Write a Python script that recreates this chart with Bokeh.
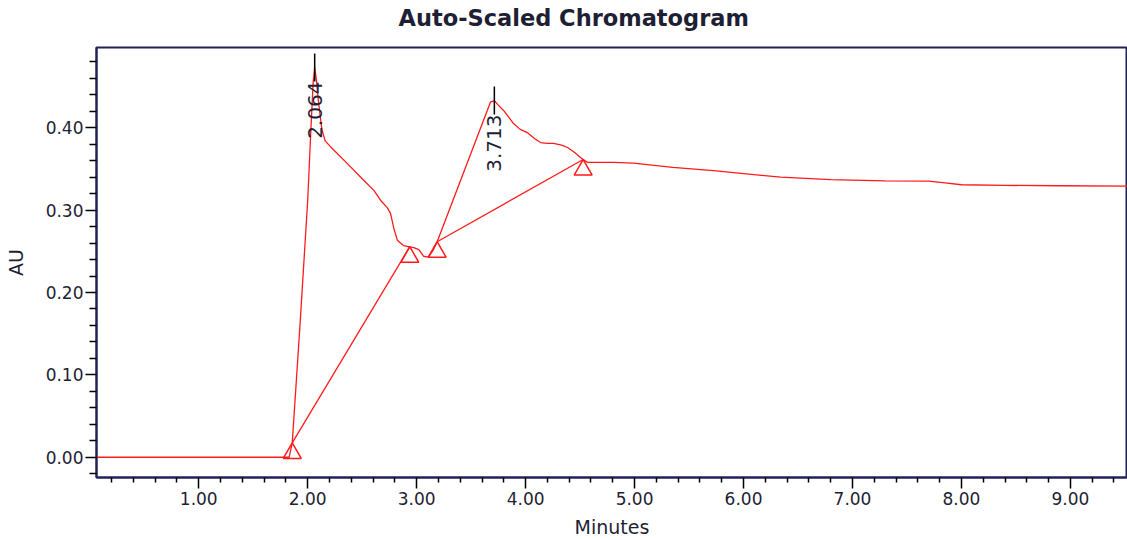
import math

from bokeh.plotting import figure
from bokeh.models import Range1d, FixedTicker, PrintfTickFormatter, Title
from bokeh.core.properties import value
from bokeh.embed import file_html
from bokeh.resources import INLINE

# Detector trace: retention time (min) vs absorbance (AU)
time_min = [0.06, 1.00, 1.83, 1.858, 1.93, 2.00, 2.03, 2.05, 2.064, 2.08, 2.10,
            2.13, 2.16, 2.209, 2.36, 2.50, 2.607, 2.668, 2.73, 2.76, 2.79,
            2.824, 2.879, 2.937, 2.974, 3.02, 3.063, 3.108, 3.15, 3.188, 3.677,
            3.713, 3.745, 3.797, 3.85, 3.889, 3.95, 4.017, 4.09, 4.137, 4.20,
            4.256, 4.33, 4.385, 4.45, 4.504, 4.528, 4.568, 4.807, 4.99, 5.35,
            5.724, 6.34, 6.80, 7.30, 7.70, 7.85, 8.00, 8.40, 8.90, 9.52]
absorbance = [0.0, 0.0, 0.0, 0.0174, 0.162, 0.312, 0.40, 0.455, 0.473, 0.458,
              0.430, 0.398, 0.384, 0.377, 0.357, 0.338, 0.324, 0.312, 0.303,
              0.296, 0.278, 0.263, 0.257, 0.2555, 0.2545, 0.252, 0.244, 0.243,
              0.251, 0.2616, 0.431, 0.433, 0.428, 0.421, 0.412, 0.405, 0.398,
              0.394, 0.386, 0.382, 0.381, 0.381, 0.379, 0.376, 0.370, 0.364,
              0.3614, 0.358, 0.358, 0.357, 0.352, 0.348, 0.340, 0.337, 0.3355,
              0.3352, 0.333, 0.3308, 0.330, 0.3296, 0.3292]

# Integration baseline end points (peak start / peak end)
base_time = [1.858, 2.937, 3.188, 4.528]
base_au = [0.0174, 0.2555, 0.2616, 0.3614]
base_pairs = [(0, 1), (2, 3)]

# Peak apexes with their retention-time labels
peak_rt = [2.064, 3.713]
peak_au = [0.473, 0.433]
peak_labels = ["2.064", "3.713"]

# Axis ticks
x_major = [1, 2, 3, 4, 5, 6, 7, 8, 9]
x_minor = [round(0.2 * i, 2) for i in range(1, 48) if i % 5]
y_major = [0.0, 0.1, 0.2, 0.3, 0.4]
y_minor = [round(0.02 * i, 2) for i in range(-1, 25) if i % 5]

TITLE = "Auto-Scaled Chromatogram"

X0, X1 = 0.0615, 9.524
Y0, Y1 = -0.0246, 0.4974
FRAME_H = 540 - 47 - 62

NAVY = "#22225a"
TXT = "#1e1e34"
RED = "#ff1a1a"
FONT = "DejaVu Sans"

p = figure(width=1127, height=540, output_backend="svg", toolbar_location=None,
           x_range=Range1d(X0, X1), y_range=Range1d(Y0, Y1),
           min_border_left=96, min_border_right=0, min_border_top=47,
           min_border_bottom=62, title=None)

# blank spacer row between the frame and the heading, then the heading
p.add_layout(Title(text=" ", text_font_size="13px", standoff=0), "above")
p.add_layout(Title(text=TITLE, text_font=FONT, text_font_size="22.5px",
                   text_font_style="bold", text_color=TXT, align="left",
                   offset=302, standoff=0), "above")

p.grid.visible = False
p.outline_line_color = NAVY
p.outline_line_width = 2
p.background_fill_color = "white"
p.border_fill_color = "white"

for ax in (p.xaxis[0], p.yaxis[0]):
    ax.axis_line_color = NAVY
    ax.axis_line_width = 2
    ax.major_tick_line_color = "black"
    ax.minor_tick_line_color = "black"
    ax.major_tick_line_width = 1.5
    ax.minor_tick_line_width = 1.5
    ax.major_tick_in = 0
    ax.minor_tick_in = 0
    ax.major_label_text_font = FONT
    ax.major_label_text_font_size = "17px"
    ax.major_label_text_color = TXT
    ax.axis_label_text_font = FONT
    ax.axis_label_text_font_size = "19px"
    ax.axis_label_text_font_style = "normal"
    ax.axis_label_text_color = TXT
    ax.formatter = PrintfTickFormatter(format="%.2f")

p.xaxis.ticker = FixedTicker(ticks=x_major, minor_ticks=x_minor)
p.yaxis.ticker = FixedTicker(ticks=y_major, minor_ticks=y_minor)
p.xaxis.axis_label = "Minutes"
p.yaxis.axis_label = "AU"
p.xaxis.major_tick_out = 11
p.xaxis.minor_tick_out = 5
p.xaxis.major_label_standoff = 3
p.xaxis.axis_label_standoff = 8
p.yaxis.major_tick_out = 11
p.yaxis.minor_tick_out = 7
p.yaxis.major_label_standoff = 2
p.yaxis.axis_label_standoff = 16

# chromatogram trace
p.line(time_min, absorbance, line_color=RED, line_width=1.3)

# baselines drawn under each integrated peak
for a, b in base_pairs:
    p.line([base_time[a], base_time[b]], [base_au[a], base_au[b]],
           line_color=RED, line_width=1.3)

# open triangles hang below each baseline point, apex on the point
TRI = 18
au_per_px = (Y1 - Y0) / FRAME_H
tri_shift = TRI * math.sqrt(3) / 3 * au_per_px
p.scatter([t for t in base_time], [v - tri_shift for v in base_au],
          marker="triangle", size=TRI, fill_color=None,
          line_color=RED, line_width=1.5)

# apex tick and rotated retention-time label
p.scatter(peak_rt, peak_au, marker="dash", angle=math.pi / 2, size=28,
          line_color="black", line_width=1.5)
p.text(peak_rt, peak_au, text=peak_labels, angle=math.pi / 2,
       text_align="right", text_baseline="middle", y_offset=14,
       text_font=value(FONT), text_font_size="20px", text_color=TXT)

open("out.html", "w").write(file_html(p, INLINE))
